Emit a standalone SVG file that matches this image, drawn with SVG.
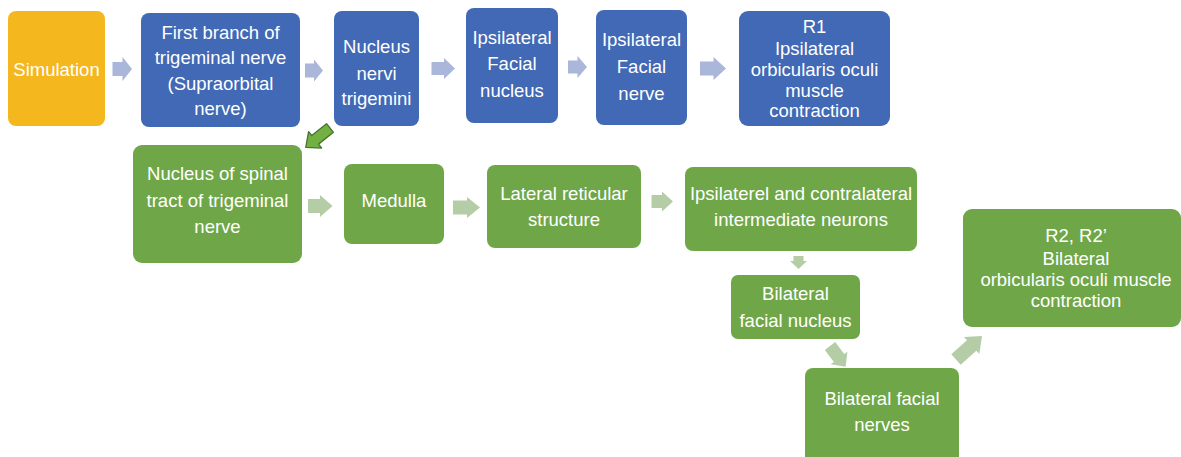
<svg xmlns="http://www.w3.org/2000/svg" width="1181" height="457" viewBox="0 0 1181 457">
<style>
.t{font-family:"Liberation Sans",Arial,Helvetica,sans-serif;font-size:18.5px;fill:#ffffff;text-anchor:middle}
.blue{fill:#4169B5}
.green{fill:#6FA748}
.orange{fill:#F4B71D}
.ab{fill:#AAB6DA}
.ag{fill:#B4CDA6}
.ad{fill:#72B043;stroke:#467529;stroke-width:1.3;stroke-linejoin:round}
</style>
<rect width="1181" height="457" fill="#ffffff"/>
<g id="connectors">
<polygon class="ab" points="112.5,62 122.5,62 122.5,57 132,69 122.5,81 122.5,76 112.5,76"/>
<polygon class="ab" points="305,63.5 314,63.5 314,59.5 323,70.5 314,81.5 314,77.5 305,77.5"/>
<polygon class="ab" points="431.5,62 444,62 444,58 455,68.5 444,79 444,75 431.5,75"/>
<polygon class="ab" points="568,60.5 577.5,60.5 577.5,56 587,67 577.5,78 577.5,73.5 568,73.5"/>
<polygon class="ab" points="700,61.5 713.5,61.5 713.5,57 726,68.5 713.5,80 713.5,75.5 700,75.5"/>
<polygon class="ad" transform="translate(330,128) rotate(141.5)" points="0,-5.5 19,-5.5 19,-10.5 31,0 19,10.5 19,5.5 0,5.5"/>
<polygon class="ag" points="308,199 320,199 320,195 332.5,206 320,217 320,213 308,213"/>
<polygon class="ag" points="453,200.5 467,200.5 467,197 480,207.5 467,218 467,214.5 453,214.5"/>
<polygon class="ag" points="651.5,195 662,195 662,191.5 673,201.5 662,211.5 662,208 651.5,208"/>
<polygon class="ag" points="793.5,256 803.5,256 803.5,261 807,261 798.5,269 790,261 793.5,261"/>
<polygon class="ag" transform="translate(830,346) rotate(53)" points="0,-6.5 15,-6.5 15,-10.5 26,0 15,10.5 15,6.5 0,6.5"/>
<polygon class="ag" transform="translate(956,359.5) rotate(-42)" points="0,-7 21,-7 21,-11.5 35,0 21,11.5 21,7 0,7"/>
</g>
<g id="n-simulation"><rect class="orange" x="8" y="11" width="97" height="115" rx="8"/>
<text class="t" x="56.5" y="75.5">Simulation</text></g>
<g id="n-first-branch"><rect class="blue" x="141" y="13" width="159" height="114" rx="8"/>
<text class="t" x="220.5" y="38.5">First branch of</text><text class="t" x="220.5" y="64">trigeminal nerve</text><text class="t" x="220.5" y="89.5">(Supraorbital</text><text class="t" x="220.5" y="115">nerve)</text></g>
<g id="n-nucleus-nervi"><rect class="blue" x="334" y="11" width="85" height="115" rx="8"/>
<text class="t" x="376.5" y="53">Nucleus</text><text class="t" x="376.5" y="79.5">nervi</text><text class="t" x="376.5" y="105">trigemini</text></g>
<g id="n-ipsi-facial-nucleus"><rect class="blue" x="466" y="8" width="92" height="115" rx="8"/>
<text class="t" x="512" y="43.5">Ipsilateral</text><text class="t" x="512" y="70">Facial</text><text class="t" x="512" y="96.5">nucleus</text></g>
<g id="n-ipsi-facial-nerve"><rect class="blue" x="596" y="10" width="91" height="115" rx="8"/>
<text class="t" x="641.5" y="46">Ipsilateral</text><text class="t" x="641.5" y="73">Facial</text><text class="t" x="641.5" y="100">nerve</text></g>
<g id="n-r1"><rect class="blue" x="739" y="11" width="151" height="115" rx="9"/>
<text class="t" x="814.5" y="33">R1</text><text class="t" x="814.5" y="54.5">Ipsilateral</text><text class="t" x="814.5" y="76">orbicularis oculi</text><text class="t" x="814.5" y="96.5">muscle</text><text class="t" x="814.5" y="117">contraction</text></g>
<g id="n-spinal-tract"><rect class="green" x="133" y="145" width="169" height="118" rx="9"/>
<text class="t" x="217.5" y="180">Nucleus of spinal</text><text class="t" x="217.5" y="206.5">tract of trigeminal</text><text class="t" x="217.5" y="233">nerve</text></g>
<g id="n-medulla"><rect class="green" x="344" y="164" width="100" height="80" rx="8"/>
<text class="t" x="394" y="207">Medulla</text></g>
<g id="n-lateral-reticular"><rect class="green" x="487" y="165" width="154" height="83" rx="8"/>
<text class="t" x="564" y="200">Lateral reticular</text><text class="t" x="564" y="225.5">structure</text></g>
<g id="n-intermediate"><rect class="green" x="685" y="167" width="232" height="84" rx="8"/>
<text class="t" x="801" y="200">Ipsilaterel and contralateral</text><text class="t" x="801" y="226">intermediate neurons</text></g>
<g id="n-bilateral-nucleus"><rect class="green" x="731" y="275" width="129" height="64" rx="7"/>
<text class="t" x="795.5" y="300">Bilateral</text><text class="t" x="795.5" y="327">facial nucleus</text></g>
<g id="n-bilateral-nerves"><rect class="green" x="805" y="368" width="154" height="100" rx="8"/>
<text class="t" x="882" y="405">Bilateral facial</text><text class="t" x="882" y="431">nerves</text></g>
<g id="n-r2"><rect class="green" x="963" y="209" width="218" height="118" rx="9"/>
<text class="t" x="1076" y="242">R2, R2’</text><text class="t" x="1076" y="264.5">Bilateral</text><text class="t" x="1076" y="286">orbicularis oculi muscle</text><text class="t" x="1076" y="307">contraction</text></g>
</svg>
